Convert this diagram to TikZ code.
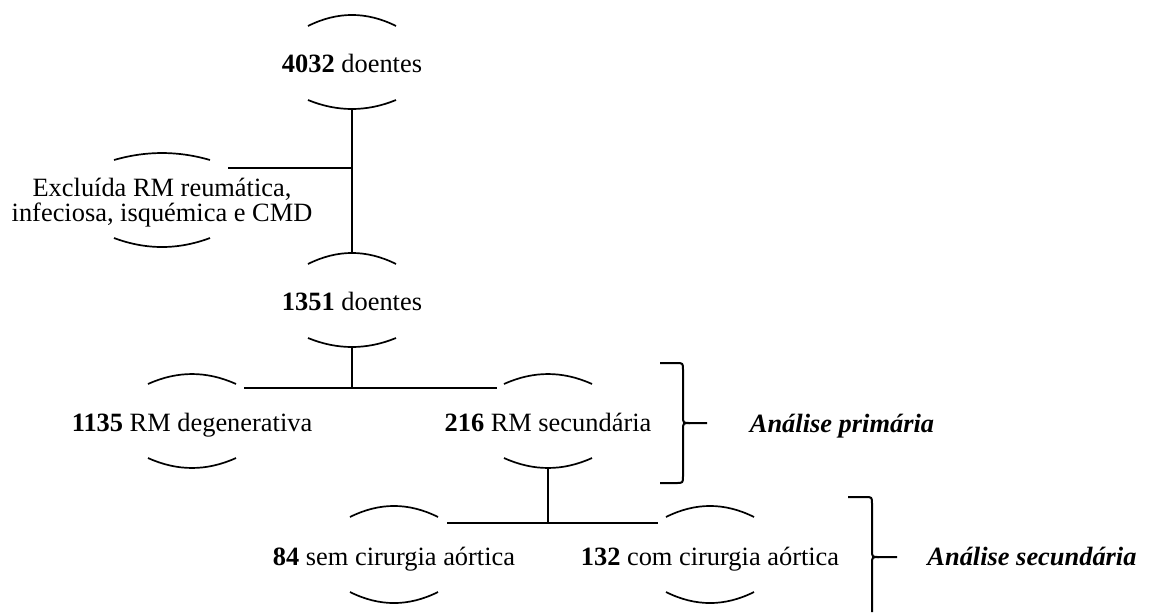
\documentclass[tikz,border=0pt]{standalone}
\usepackage{fontspec}
\setmainfont{Liberation Serif}
\usetikzlibrary{calc}
\newcommand\drawarcs[7]{% #1 node.anchor, #2 half width, #3 top end, #4 top ctrl, #5 bottom end, #6 bottom ctrl
  \draw[arcline] ($(#1)+(-#2,#3)$) .. controls ($(#1)+(-#2/3,#4)$) and ($(#1)+(#2/3,#4)$) .. ($(#1)+(#2,#3)$);
  \draw[arcline] ($(#1)+(-#2,#5)$) .. controls ($(#1)+(-#2/3,#6)$) and ($(#1)+(#2/3,#6)$) .. ($(#1)+(#2,#5)$);
}
\begin{document}
\begin{tikzpicture}[x=0.5pt,y=-0.5pt,
  txt/.style={anchor=base,inner sep=0pt,font=\fontsize{13.2}{12.5}\selectfont},
  lab/.style={txt,font=\fontsize{13.2}{12.5}\selectfont\bfseries\itshape},
  arcline/.style={line width=0.85pt},
  conn/.style={line width=1pt},
  bracestyle/.style={line width=1pt,line join=round}]
\useasboundingbox (0,0) rectangle (1153,612);

\node[txt] (n1) at (352,72) {\textbf{4032} doentes};
\node[txt,anchor=center,align=center] (ex) at (162,203) {Exclu\'ida RM reum\'atica,\\infeciosa, isqu\'emica e CMD};
\node[txt] (n2) at (352,310) {\textbf{1351} doentes};
\node[txt] (n3) at (192,431) {\textbf{1135} RM degenerativa};
\node[txt] (n4) at (548,431) {\textbf{216} RM secund\'aria};
\node[txt] (n5) at (394,565) {\textbf{84} sem cirurgia a\'ortica};
\node[txt] (n6) at (710,565) {\textbf{132} com cirurgia a\'ortica};
\node[lab] (p1) at (842,432) {An\'alise prim\'aria};
\node[lab] (p2) at (1032,565) {An\'alise secund\'aria};

\drawarcs{n1.base}{44}{-46}{-60.7}{28}{40}{}
\drawarcs{ex.center}{48}{-43}{-52.3}{35}{47}{}
\drawarcs{n2.base}{44}{-46}{-60.7}{28}{40}{}
\drawarcs{n3.base}{44}{-47}{-60.3}{27}{40.3}{}
\drawarcs{n4.base}{44}{-47}{-60.3}{27}{40.3}{}
\drawarcs{n5.base}{44}{-48}{-62.7}{27}{41.7}{}
\drawarcs{n6.base}{44}{-48}{-62.7}{27}{41.7}{}

\coordinate (n1-b) at ($(n1.base)+(0,37)$);
\coordinate (n2-t) at ($(n2.base)+(0,-57)$);
\coordinate (n2-b) at ($(n2.base)+(0,37)$);
\coordinate (n4-b) at ($(n4.base)+(0,37)$);
\coordinate (ex-r) at (228,168);
\coordinate (s1l) at (244,388);
\coordinate (s1r) at (497,388);
\coordinate (s2l) at (447,523);
\coordinate (s2r) at (658,523);

\draw[conn] (n1-b) -- (n2-t);
\draw[conn] (ex-r) -- (ex-r -| n1-b);
\draw[conn] (n2-b) -- (n2-b |- s1l);
\draw[conn] (s1l) -- (s1r);
\draw[conn] (n4-b) -- (n4-b |- s2l);
\draw[conn] (s2l) -- (s2r);

% brace 1
\draw[bracestyle] (660,363) -- (676,363) .. controls (683,363) .. (683,370) -- (683,416)
  .. controls (683,423) .. (690,423) -- (707,423);
\draw[bracestyle] (690,423) .. controls (683,423) .. (683,430) -- (683,476)
  .. controls (683,483) .. (676,483) -- (660,483);
% brace 2
\draw[bracestyle] (848,497) -- (865,497) .. controls (872,497) .. (872,504) -- (872,550)
  .. controls (872,557) .. (879,557) -- (897,557);
\draw[bracestyle] (879,557) .. controls (872,557) .. (872,564) -- (872,612);
\end{tikzpicture}
\end{document}
